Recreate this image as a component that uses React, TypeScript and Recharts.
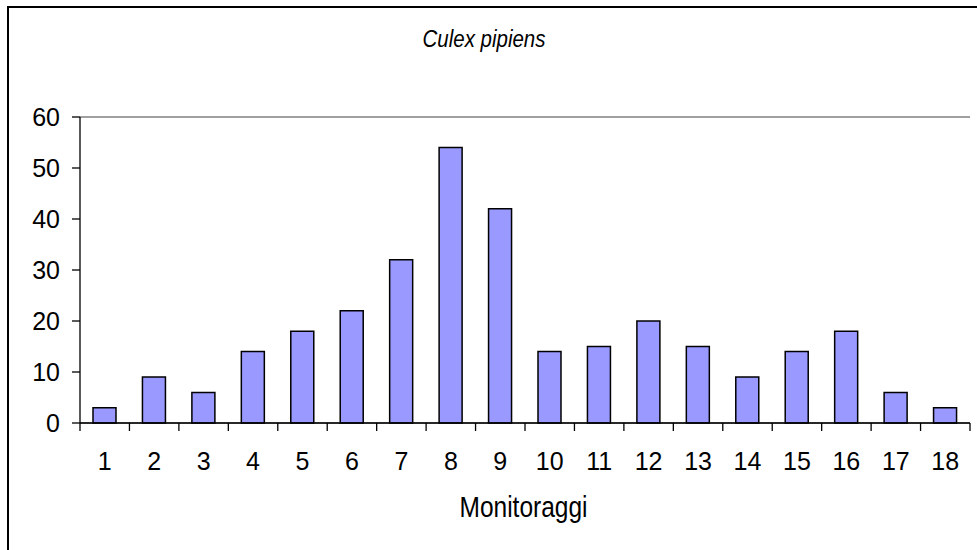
import { BarChart, Bar, XAxis, YAxis, CartesianGrid } from "recharts";

const monitoraggi = ["1", "2", "3", "4", "5", "6", "7", "8", "9", "10", "11", "12", "13", "14", "15", "16", "17", "18"];
const culexPipiens = [3, 9, 6, 14, 18, 22, 32, 54, 42, 14, 15, 20, 15, 9, 14, 18, 6, 3];
const yTicks = [0, 10, 20, 30, 40, 50, 60];

const W = 977;
const H = 550;
const X_AXIS_H = 30;
const MARGIN = { top: 117, right: 7, bottom: 127 - X_AXIS_H, left: 0 };
const Y_AXIS_W = 80;
const FONT = "'Liberation Sans', Arial, sans-serif";

const data = monitoraggi.map((m, i) => ({ name: m, value: culexPipiens[i] }));
const step = (W - MARGIN.left - MARGIN.right - Y_AXIS_W) / monitoraggi.length;

function CategoryTick(props: any) {
  const { x, y, payload, index } = props;
  const last = index === monitoraggi.length - 1;
  return (
    <g>
      <line x1={x - step / 2} x2={x - step / 2} y1={y} y2={y + 8} stroke="#000" strokeWidth={1.3} />
      {last && <line x1={x + step / 2} x2={x + step / 2} y1={y} y2={y + 8} stroke="#000" strokeWidth={1.3} />}
      <text x={x} y={y + 46.5} textAnchor="middle" fontSize={25} fontFamily={FONT} fill="#000">
        {payload.value}
      </text>
    </g>
  );
}

export default function App() {
  return (
    <div style={{ position: "absolute", left: 0, top: 0, width: W, height: H, overflow: "hidden", background: "#fff" }}>
      <div style={{ position: "absolute", left: 7, top: 6, width: 990, height: 570, border: "2px solid #000" }} />
      <div style={{ position: "absolute", left: 0, top: 0 }}>
        <BarChart width={W} height={H} data={data} margin={MARGIN} barSize={23}>
          <CartesianGrid vertical={false} stroke="#808080" strokeWidth={1.3} />
          <XAxis
            dataKey="name"
            height={X_AXIS_H}
            interval={0}
            tickSize={0}
            tickMargin={0}
            tickLine={false}
            axisLine={{ stroke: "#000", strokeWidth: 1.3 }}
            tick={<CategoryTick />}
          />
          <YAxis
            yAxisId="left"
            width={Y_AXIS_W}
            domain={[0, 60]}
            ticks={yTicks}
            interval={0}
            tickSize={8}
            tickMargin={12}
            axisLine={{ stroke: "#000", strokeWidth: 1.3 }}
            tickLine={{ stroke: "#000", strokeWidth: 1.3 }}
            tick={{ fontSize: 25, fontFamily: FONT, fill: "#000" }}
          />
          <YAxis
            yAxisId="right"
            orientation="right"
            width={0}
            domain={[0, 60]}
            tick={false}
            tickLine={false}
            axisLine={{ stroke: "#808080", strokeWidth: 1.3 }}
          />
          <Bar yAxisId="left" dataKey="value" fill="#9999FF" stroke="#000" strokeWidth={1.5} isAnimationActive={false} />
        </BarChart>
      </div>
      <svg width={W} height={H} style={{ position: "absolute", left: 0, top: 0, pointerEvents: "none" }}>
        <text
          x={484}
          y={0}
          transform="translate(0 46.5) scale(1 1.2)"
          textAnchor="middle"
          fontSize={20.5}
          fontStyle="italic"
          fontFamily={FONT}
          fill="#000"
        >
          Culex pipiens
        </text>
        <text
          x={523.5}
          y={0}
          transform="translate(0 516.5) scale(1 1.17)"
          textAnchor="middle"
          fontSize={24.5}
          fontFamily={FONT}
          fill="#000"
        >
          Monitoraggi
        </text>
      </svg>
    </div>
  );
}
